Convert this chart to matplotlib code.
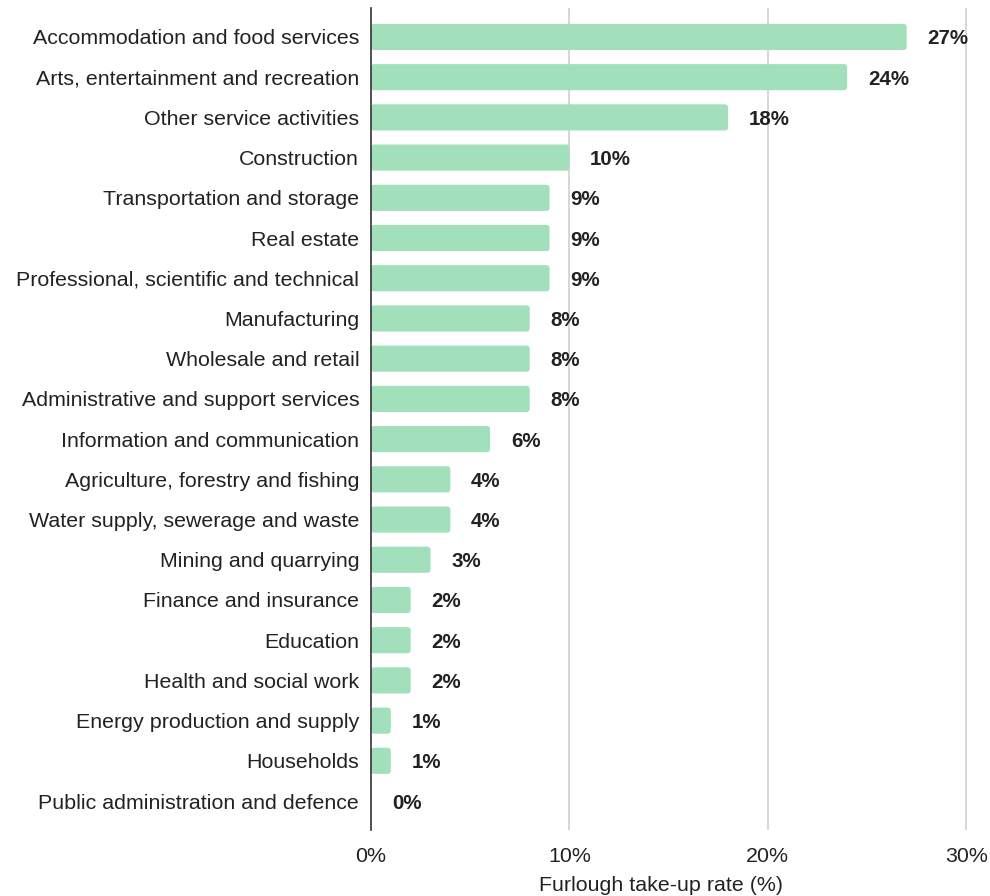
import matplotlib
matplotlib.use("Agg")
import matplotlib.pyplot as plt
from matplotlib.patches import FancyBboxPatch

plt.rcParams["font.family"] = ["Liberation Sans", "DejaVu Sans"]

sectors = [
    "Accommodation and food services",
    "Arts, entertainment and recreation",
    "Other service activities",
    "Construction",
    "Transportation and storage",
    "Real estate",
    "Professional, scientific and technical",
    "Manufacturing",
    "Wholesale and retail",
    "Administrative and support services",
    "Information and communication",
    "Agriculture, forestry and fishing",
    "Water supply, sewerage and waste",
    "Mining and quarrying",
    "Finance and insurance",
    "Education",
    "Health and social work",
    "Energy production and supply",
    "Households",
    "Public administration and defence",
]
take_up = [27, 24, 18, 10, 9, 9, 9, 8, 8, 8, 6, 4, 4, 3, 2, 2, 2, 1, 1, 0]
x_ticks = [0, 10, 20, 30]

BAR_COLOR = "#a1e0bb"
TEXT_COLOR = "#222222"

fig = plt.figure(figsize=(9.9, 8.96), dpi=100)
ax = fig.add_axes([371 / 990, 1 - 830 / 896, (986 - 371) / 990, (830 - 8) / 896])

pos = list(range(len(sectors)))
bars = ax.barh(pos, take_up, height=0.65, color=BAR_COLOR)

# rounded corners: swap each bar for a fancy box with the same geometry
aspect = (40.2 / 19.85)
for b in bars:
    b.set_visible(False)
    w = b.get_width()
    if w <= 0:
        continue
    fb = FancyBboxPatch((b.get_x(), b.get_y()), w, b.get_height(),
                        boxstyle="round,pad=0,rounding_size=0.15",
                        mutation_aspect=1 / aspect,
                        facecolor=BAR_COLOR, edgecolor="none", zorder=2)
    ax.add_patch(fb)

for p, v in zip(pos, take_up):
    ax.annotate(f"{v}%", (v, p), xytext=(15, 0), textcoords="offset points",
                ha="left", va="center_baseline", fontsize=14.8,
                fontweight="bold", color=TEXT_COLOR)

ax.set_xlim(0, 31)
ax.set_ylim(len(sectors) - 1 + 0.72, -0.72)
ax.set_yticks(pos)
ax.set_yticklabels(sectors, fontsize=15.4, color=TEXT_COLOR,
                   va="center_baseline")
ax.set_xticks(x_ticks)
ax.set_xticklabels([f"{t}%" for t in x_ticks], fontsize=15.4, color=TEXT_COLOR)
ax.tick_params(axis="both", length=0)
ax.tick_params(axis="y", pad=8.5)
ax.tick_params(axis="x", pad=12)

for s in ["top", "right", "bottom"]:
    ax.spines[s].set_visible(False)
ax.spines["left"].set_color("#333333")
ax.spines["left"].set_linewidth(1.2)
ax.spines["left"].set_zorder(3)

ax.grid(axis="x", color="#d0d0d0", linewidth=1.2)
ax.set_axisbelow(True)
ax.xaxis.get_gridlines()[0].set_visible(False)

ax.set_xlabel("Furlough take-up rate (%)", fontsize=15.4, color=TEXT_COLOR)
ax.xaxis.set_label_coords((661 - 371) / (986 - 371), -0.056)

fig.savefig("out.png", dpi=100)
